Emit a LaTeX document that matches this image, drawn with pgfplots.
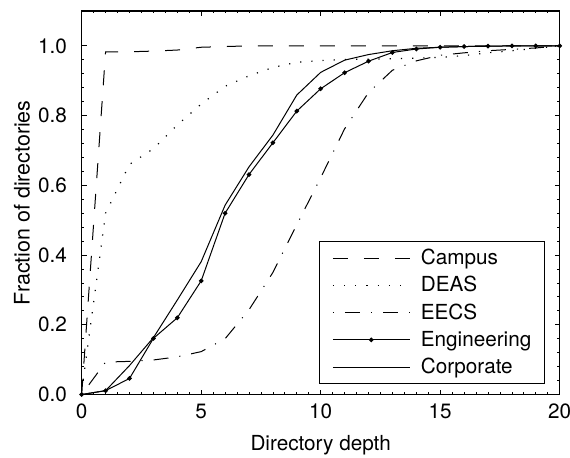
\documentclass[border=0pt]{standalone}
\usepackage{fontspec}
\setmainfont{TeX Gyre Heros}
\usepackage{pgfplots}
\pgfplotsset{compat=1.18}
\pgfplotsset{
  lineimage/.style={legend image code/.code={
      \draw[##1, line width=1bp] plot coordinates {(0bp,0bp) (38.5bp,0bp) (77bp,0bp)};}},
  markimage/.style={legend image code/.code={
      \draw[##1, line width=1bp, mark repeat=2, mark phase=2] plot coordinates {(0bp,0bp) (38.5bp,0bp) (77bp,0bp)};}},
}

\begin{document}
\begin{tikzpicture}
\begin{axis}[
    width=478bp, height=383.5bp, scale only axis,
    xmin=0, xmax=20, ymin=0, ymax=1.1,
    xtick={0,5,10,15,20},
    ytick={0,0.2,0.4,0.6,0.8,1.0},
    yticklabel={\pgfmathprintnumber[fixed,fixed zerofill,precision=1]{\tick}},
    minor x tick num=9, minor y tick num=4,
    tick align=inside, xtick pos=both, ytick pos=both,
    major tick length=5bp, minor tick length=2.5bp,
    tick style={black, line width=0.8bp},
    axis line style={line width=1.3bp},
    font=\fontsize{20.8}{24}\selectfont,
    /pgf/number format/assume math mode=true,
    x tick label style={anchor=north, inner sep=0bp},
    y tick label style={anchor=east, inner sep=0bp},
    xticklabel shift=9.5bp,
    yticklabel shift=14.5bp,
    xlabel={Directory depth},
    ylabel={Fraction of directories},
    xlabel style={at={(axis description cs:0.5,0)}, anchor=base, yshift=-55.5bp},
    ylabel style={at={(axis description cs:-0.109,0.5)}, anchor=base,
        font=\fontsize{21.5}{24}\selectfont},
    legend cell align=left,
    legend style={at={(axis description cs:0.969,0.400)}, anchor=north east,
        draw=black, line width=1bp, fill=white,
        inner xsep=13bp, inner ysep=6bp, row sep=6.25bp, column sep=10.5bp,
        nodes={inner sep=0bp, text height=17bp, text depth=4bp},
        font=\fontsize{20.8}{24}\selectfont},
    lineimage,
]
% Campus
\addplot[black, line width=1bp, dash pattern=on 15bp off 16bp] coordinates {
  (0,0) (1,0.983) (2,0.983) (3,0.985) (4,0.988) (5,0.996) (6,0.998) (7,1) (8,1) (9,1)
  (10,1) (11,1) (12,1) (13,1) (14,1) (15,1) (16,1) (17,1) (18,1) (19,1) (20,1)
};
\addlegendentry{Campus}
% DEAS
\addplot[black, line width=1.2bp, dash pattern=on 1.2bp off 10bp] coordinates {
  (0,0.01) (1,0.52) (2,0.66) (3,0.705) (4,0.773) (5,0.833) (6,0.884) (7,0.914) (8,0.938)
  (9,0.953) (10,0.958) (11,0.961) (12,0.962) (13,0.963) (14,0.965) (15,0.967) (16,0.972)
  (17,0.98) (18,0.986) (19,0.993) (20,1.0)
};
\addlegendentry{DEAS}
% EECS
\addplot[black, line width=1bp, dash pattern=on 1.1bp off 11bp on 15bp off 11bp] coordinates {
  (0,0) (1,0.093) (2,0.095) (3,0.099) (4,0.108) (5,0.123) (6,0.16) (7,0.243) (8,0.35)
  (9,0.487) (10,0.622) (11,0.762) (12,0.866) (13,0.93) (14,0.957) (15,0.973) (16,0.98)
  (17,0.986) (18,0.99) (19,0.994) (20,1.0)
};
\addlegendentry{EECS}
% Engineering
\addplot[black, line width=1bp, mark=*, mark size=1.8bp, markimage] coordinates {
  (0,0) (1,0.011) (2,0.046) (3,0.161) (4,0.22) (5,0.326) (6,0.52) (7,0.631) (8,0.722)
  (9,0.813) (10,0.877) (11,0.923) (12,0.956) (13,0.981) (14,0.991) (15,0.996) (16,0.998)
  (17,0.999) (18,1) (19,1) (20,1)
};
\addlegendentry{Engineering}
% Corporate
\addplot[black, line width=1bp] coordinates {
  (0,0) (1,0.011) (2,0.083) (3,0.163) (4,0.271) (5,0.381) (6,0.543) (7,0.653) (8,0.744)
  (9,0.859) (10,0.924) (11,0.959) (12,0.975) (13,0.986) (14,0.993) (15,0.996) (16,0.998)
  (17,0.999) (18,1) (19,1) (20,1)
};
\addlegendentry{Corporate}
\coordinate (sw) at (rel axis cs:0,0);
\coordinate (ne) at (rel axis cs:1,1);
\end{axis}
\pgfresetboundingbox
\path ([shift={(-81.7bp,-63.5bp)}]sw) rectangle ([shift={(10.3bp,11bp)}]ne);
\end{tikzpicture}
\end{document}
